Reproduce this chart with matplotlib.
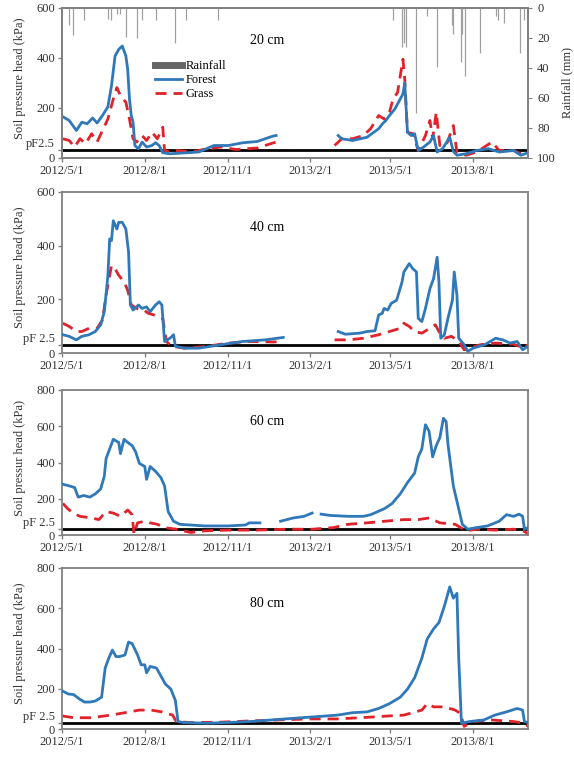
import matplotlib
matplotlib.use('Agg')
import matplotlib.pyplot as plt
import numpy as np
import pandas as pd
from matplotlib.lines import Line2D

plt.rcParams['font.family'] = ['Liberation Serif', 'DejaVu Serif']

# days since 2012/5/1 and values (nan = data gap)
start = pd.Timestamp('2012-05-01')
end = pd.Timestamp('2013-10-01')
pf25 = 31  # kPa

# ---- 20 cm ----
f20_day = [1, 8, 16, 22, 28, 34, 39, 45, 51, 55, 59, 63, 67, 71, 73, 75, 77, 79, 81, 85, 89, 94, 100, 104,
           108, 112, 120, 135, 152, 169, 185, 201, 217, 234, 238, 270,
           307, 311, 323, 339, 352, 356, 360, 364, 370, 376, 379, 381, 384, 388, 392, 396, 402, 409, 413,
           417, 423, 431, 435, 439, 449, 461, 474, 486, 502, 510, 518]
f20_val = [165, 150, 110, 143, 137, 160, 140, 170, 205, 289, 408, 434, 448, 408, 355, 236, 170, 143, 50, 37,
           64, 44, 50, 61, 50, 21, 17, 20, 24, 50, 50, 61, 66, 87, 90, np.nan,
           90, 77, 70, 83, 117, 136, 150, 170, 196, 236, 256, 300, 103, 90, 97, 30, 44, 64, 90,
           24, 37, 83, 26, 11, 17, 30, 37, 24, 30, 11, 21]
g20_day = [1, 8, 14, 20, 26, 33, 39, 45, 51, 57, 61, 65, 71, 75, 79, 83, 89, 94, 100, 106, 112, 114, 120,
           128, 144, 161, 177, 193, 217, 238, 244, 270,
           303, 311, 323, 335, 343, 352, 358, 364, 368, 373, 379, 381, 384, 390, 396, 404, 409, 412, 416,
           420, 427, 435, 439, 449, 461, 478, 486, 502, 510, 518]
g20_val = [77, 70, 44, 77, 57, 97, 64, 110, 156, 236, 282, 249, 223, 156, 77, 64, 90, 70, 103, 77, 123, 30,
           24, 30, 24, 37, 44, 34, 40, 64, 50, np.nan,
           50, 77, 77, 90, 117, 170, 156, 183, 236, 262, 395, 315, 103, 97, 30, 90, 150, 77, 183,
           50, 50, 130, 24, 11, 24, 64, 30, 30, 17, 30]
rain_day = [8, 12, 24, 51, 55, 61, 65, 71, 83, 89, 104, 126, 138, 173, 368, 378, 380, 382, 393, 406, 417,
            433, 435, 443, 445, 448, 465, 482, 485, 491, 509, 513]
rain_mm = [11, 18, 8, 7, 8, 4, 4, 19, 20, 8, 8, 23, 8, 8, 8, 26, 23, 26, 70, 5, 39,
           11, 17, 36, 17, 45, 30, 5, 8, 10, 30, 8]

# ---- 40 cm ----
f40_day = [1, 8, 16, 22, 30, 37, 43, 47, 50, 51, 53, 55, 57, 61, 63, 67, 71, 74, 76, 79, 85, 89, 94, 98,
           104, 108, 111, 114, 120, 124, 126, 136, 152, 177, 201, 226, 246, 270,
           307, 315, 331, 339, 348, 352, 356, 358, 362, 366, 372, 378, 380, 386, 390, 394, 396, 400, 404,
           409, 413, 417, 419, 421, 425, 429, 434, 436, 439, 441, 447, 451, 457, 470, 482, 490, 498, 506,
           512, 518]
f40_val = [68, 62, 49, 62, 68, 80, 105, 154, 253, 290, 425, 419, 493, 462, 487, 487, 462, 376, 179, 160,
           179, 166, 172, 154, 179, 191, 179, 43, 55, 68, 25, 18, 18, 31, 43, 49, 58, np.nan,
           80, 70, 74, 80, 83, 142, 148, 166, 160, 185, 197, 265, 302, 333, 314, 302, 129, 117, 166,
           240, 277, 357, 265, 55, 68, 129, 197, 302, 216, 55, 31, 6, 18, 31, 55, 49, 37, 43,
           12, 25]
g40_day = [1, 8, 16, 22, 30, 39, 45, 49, 55, 59, 63, 69, 73, 77, 83, 91, 96, 102, 108, 112, 116, 122, 136,
           161, 185, 209, 234, 246, 270,
           303, 319, 335, 352, 364, 376, 380, 386, 392, 400, 409, 415, 419, 425, 433, 441, 447, 453, 465,
           482, 502, 514, 518]
g40_val = [111, 99, 80, 80, 92, 92, 123, 216, 326, 314, 290, 265, 234, 179, 166, 160, 148, 142, 135, 129,
           43, 25, 18, 25, 37, 43, 41, 43, np.nan,
           49, 49, 55, 68, 80, 92, 111, 99, 80, 74, 92, 105, 80, 55, 62, 43, 12, 18, 31,
           37, 33, 18, 31]

# ---- 60 cm ----
f60_day = [1, 8, 14, 18, 24, 31, 37, 43, 47, 49, 53, 57, 63, 65, 69, 73, 78, 82, 86, 92, 94, 98, 104, 110,
           114, 118, 124, 131, 143, 159, 184, 204, 208, 220, 230,
           243, 257, 269, 278, 283, 288, 298, 318, 335, 343, 351, 359, 367, 376, 384, 392, 396, 400, 404,
           408, 412, 416, 420, 424, 427, 429, 435, 445, 451, 461, 473, 486, 494, 502, 508, 512, 514, 518]
f60_val = [280, 271, 262, 209, 218, 209, 227, 254, 324, 422, 475, 528, 511, 449, 528, 511, 493, 457, 395,
           378, 307, 378, 351, 316, 271, 129, 76, 59, 55, 50, 50, 55, 67, 67, np.nan,
           76, 94, 103, 121, np.nan, 115, 108, 103, 103, 112, 129, 147, 174, 227, 289, 342, 431, 475, 608,
           573, 431, 493, 537, 644, 626, 502, 271, 59, 32, 41, 50, 76, 112, 103, 115, 103, 32, 41]
g60_day = [1, 6, 12, 20, 33, 41, 49, 57, 65, 73, 78, 80, 84, 92, 98, 106, 114, 127, 143, 159, 184, 216,
           249, 278, 302, 318, 339, 359, 380, 396, 408, 420, 437, 449, 461, 482, 502, 514, 518]
g60_val = [174, 147, 121, 103, 94, 85, 129, 121, 103, 138, 112, 5, 67, 76, 67, 59, 41, 32, 14, 23, 27, 27,
           32, 32, 41, 59, 67, 76, 85, 85, 94, 67, 59, 23, 32, 27, 32, 20, 5]

# ---- 80 cm ----
f80_day = [0, 7, 13, 19, 25, 31, 37, 44, 48, 52, 56, 60, 64, 70, 74, 78, 84, 88, 92, 94, 98, 105, 111, 115,
           121, 126, 129, 135, 160, 184, 209, 233, 257, 282, 306, 323, 339, 352, 364, 376, 384, 392, 400,
           406, 413, 419, 425, 431, 435, 439, 441, 444, 453, 469, 481, 494, 506, 512, 514, 518]
f80_val = [190, 174, 171, 150, 134, 134, 139, 158, 303, 352, 392, 360, 360, 368, 432, 424, 368, 319, 319,
           279, 311, 303, 255, 223, 198, 142, 37, 32, 29, 32, 37, 45, 53, 61, 69, 81, 85, 102, 126, 158,
           198, 255, 352, 448, 497, 529, 610, 706, 650, 674, 352, 29, 37, 45, 69, 85, 102, 94, 37, 32]
g80_day = [0, 13, 33, 54, 70, 86, 99, 111, 123, 127, 143, 176, 209, 241, 274, 306, 339, 364, 380, 400, 406,
           413, 425, 437, 443, 447, 457, 477, 502, 514, 518]
g80_val = [65, 56, 56, 69, 81, 94, 94, 85, 69, 37, 32, 34, 40, 45, 50, 50, 58, 65, 69, 94, 126,
           110, 110, 94, 77, 13, 37, 45, 37, 29, 13]

panels = [
    ('20 cm', f20_day, f20_val, g20_day, g20_val, 600, 'pF2.5', 'Soil pressure head (kPa)'),
    ('40 cm', f40_day, f40_val, g40_day, g40_val, 600, 'pF 2.5', 'Soil pressure head (kPa)'),
    ('60 cm', f60_day, f60_val, g60_day, g60_val, 800, 'pF 2.5', 'Soil pressur head (kPa)'),
    ('80 cm', f80_day, f80_val, g80_day, g80_val, 800, 'pF 2.5', 'Soil pressure head (kPa)'),
]

# axes boxes in pixels (top, bottom) on a 574x759 canvas
boxes = [(8, 158), (192, 353), (390, 535), (568, 729)]
left_px, right_px = 62, 528

blue = '#2f78b9'
red = '#e0222a'
spine_col = '#808080'
xticks = pd.to_datetime(['2012-05-01', '2012-08-01', '2012-11-01', '2013-02-01', '2013-05-01', '2013-08-01'])
xlabels = ['2012/5/1', '2012/8/1', '2012/11/1', '2013/2/1', '2013/5/1', '2013/8/1']


def to_dates(days):
    return start + pd.to_timedelta(days, unit='D')


fig = plt.figure(figsize=(5.74, 7.59), dpi=100)

for i, (title, fd, fv, gd, gv, ymax, pflab, ylab) in enumerate(panels):
    top, bot = boxes[i]
    ax = fig.add_axes([left_px / 574, (759 - bot) / 759, (right_px - left_px) / 574, (bot - top) / 759])
    ax.axhline(pf25, color='black', lw=2, zorder=1)
    ax.plot(to_dates(fd), fv, color=blue, lw=2, zorder=3, label='Forest')
    ax.plot(to_dates(gd), gv, color=red, lw=2, ls=(0, (4, 2.5)), zorder=2, label='Grass')
    ax.set_xlim(start, end)
    ax.set_ylim(0, ymax)
    yt = [0, pf25] + list(range(200, ymax + 1, 200))
    ax.set_yticks(yt)
    ax.set_yticklabels(['0', pflab] + [str(v) for v in range(200, ymax + 1, 200)])
    # lift the pF label off the zero label, as in the original
    ax.get_yticklabels()[1].set_va('bottom')
    ax.set_xticks(xticks)
    ax.set_xticklabels(xlabels)
    ax.tick_params(labelsize=9, colors='#333333', length=3, width=1, pad=2)
    ax.tick_params(axis='x', direction='out', color=spine_col)
    ax.tick_params(axis='y', direction='out', color=spine_col)
    for s in ax.spines.values():
        s.set_color(spine_col)
        s.set_linewidth(1.3)
    ax.set_ylabel(ylab, fontsize=9, color='#333333', labelpad=2)
    ax.yaxis.set_label_coords(-0.078, 0.53)
    ax.text(0.44, 0.78, title, transform=ax.transAxes, ha='center', va='center', fontsize=10)

    if i == 0:
        ax2 = ax.twinx()
        ax2.vlines(to_dates(rain_day), 0, rain_mm, color='#a0a0a0', lw=0.9)
        ax2.set_ylim(100, 0)
        ax2.set_yticks([0, 20, 40, 60, 80, 100])
        ax2.tick_params(labelsize=9, colors='#333333', length=3, direction='out', color=spine_col)
        for s in ax2.spines.values():
            s.set_color(spine_col)
            s.set_linewidth(1.3)
        ax2.set_ylabel('Rainfall (mm)', fontsize=9, color='#333333', labelpad=4)
        handles = [Line2D([], [], color='#666666', lw=5),
                   Line2D([], [], color=blue, lw=2),
                   Line2D([], [], color=red, lw=2, ls=(0, (4, 2.5)))]
        ax.legend(handles, ['Rainfall', 'Forest', 'Grass'], loc='upper left', bbox_to_anchor=(0.18, 0.71),
                  frameon=False, fontsize=9, handlelength=2.2, handletextpad=0.3, labelspacing=0.15,
                  borderpad=0.2)

fig.savefig('out.png', dpi=100)
